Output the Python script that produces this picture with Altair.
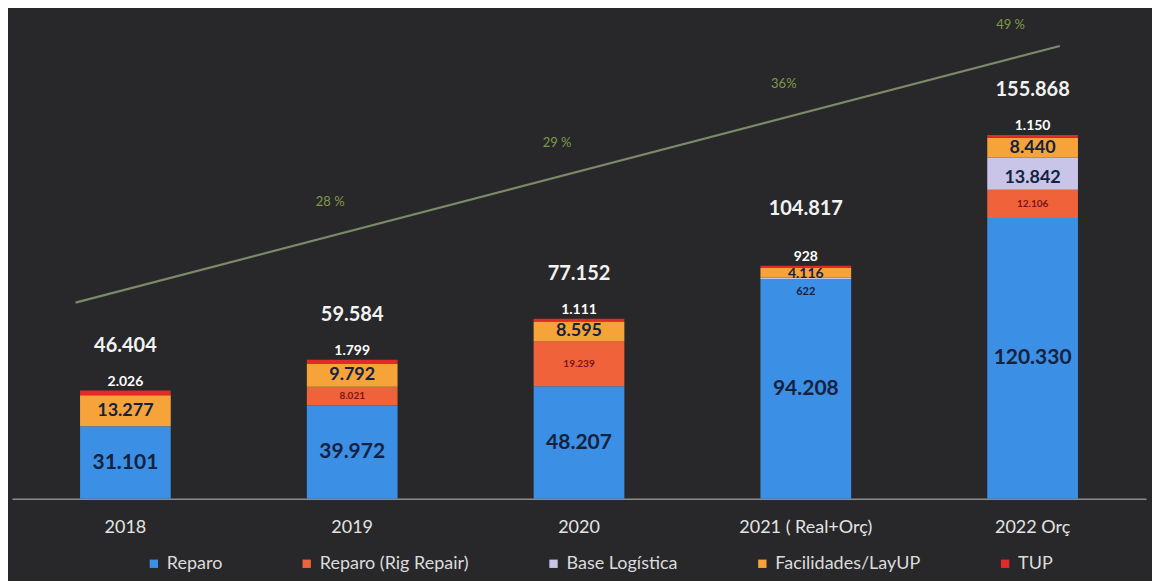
import altair as alt
import pandas as pd
import numpy as np

# ---------------- data ----------------
years = ["2018", "2019", "2020", "2021 ( Real+Orç)", "2022 Orç"]
series = ["Reparo", "Reparo (Rig Repair)", "Base Logística", "Facilidades/LayUP", "TUP"]
colors = ["#3b8fe4", "#f0623a", "#c9c5e8", "#f6a43a", "#e22a2a"]

reparo = [31101, 39972, 48207, 94208, 120330]
rig_repair = [0, 8021, 19239, 0, 12106]
base_logistica = [0, 0, 0, 622, 13842]
facilidades = [13277, 9792, 8595, 4116, 8440]
tup = [2026, 1799, 1111, 928, 1150]
totals = [46404, 59584, 77152, 104817, 155868]

pct_idx = [1, 2, 3, 4]
pct_values = [28, 29, 36, 49]
pct_labels = ["28 %", "29 %", "36%", "49 %"]

# ---------------- tables ----------------
rows = []
for i, yr in enumerate(years):
    for s_i, (s, vals) in enumerate(zip(series, [reparo, rig_repair, base_logistica, facilidades, tup])):
        rows.append(dict(year=yr, series=s, sidx=s_i, value=vals[i]))
df = pd.DataFrame(rows)

tot_df = pd.DataFrame({"year": years, "total": totals})

coef = np.polyfit(pct_idx, pct_values, 1)
pct_df = pd.DataFrame({"idx": pct_idx, "pct": pct_values, "plabel": pct_labels,
                       "fit": np.polyval(coef, pct_idx)})

FONT = "Lato"
DARK = "#15223f"

x_enc = alt.X("year:N", sort=years,
              scale=alt.Scale(paddingInner=0.6, paddingOuter=0.3),
              axis=alt.Axis(title=None, labelAngle=0, ticks=False, tickSize=0, labelPadding=20,
                            domainColor="#8c8c8c", domainWidth=1.5, labelColor="#e4e4e4",
                            labelFontSize=18, labelFont=FONT, grid=False))
y_scale = alt.Scale(domain=[0, 205100])

bars = alt.Chart(df).mark_bar().encode(
    x=x_enc,
    y=alt.Y("value:Q", stack="zero", scale=y_scale, axis=None),
    color=alt.Color("series:N", scale=alt.Scale(domain=series, range=colors),
                    legend=alt.Legend(title=None, orient="none", legendX=133, legendY=535,
                                      direction="horizontal", symbolType="square", symbolSize=70,
                                      symbolStrokeWidth=0, labelFontSize=18, labelFont=FONT,
                                      labelColor="#dcdcdc", columnPadding=75, padding=0,
                                      labelLimit=300)),
    order=alt.Order("sidx:Q", sort="ascending"),
)

stacked = alt.Chart(df).transform_stack(
    stack="value", groupby=["year"], as_=["y0", "y1"],
    sort=[alt.SortField("sidx", order="ascending")]
).transform_calculate(
    mid="(datum.y0 + datum.y1) / 2",
    label="replace(format(datum.value, ','), ',', '.')"
)

def seg_text(name, cond, **kw):
    return stacked.transform_filter(
        (alt.datum.series == name) & cond
    ).mark_text(font=FONT, **kw)

X = alt.X("year:N", sort=years)

reparo_lbl = seg_text("Reparo", alt.datum.value > 0, fontSize=21, fontWeight="bold", color=DARK).encode(
    x=X, y=alt.Y("mid:Q", scale=y_scale), text="label:N")
rig_lbl = seg_text("Reparo (Rig Repair)", alt.datum.value > 0, fontSize=10, fontWeight="bold",
                   color="#7a1414").encode(
    x=X, y=alt.Y("mid:Q", scale=y_scale), text="label:N")
base_big = seg_text("Base Logística", alt.datum.value > 5000, fontSize=18, fontWeight="bold",
                    color=DARK, dy=4).encode(
    x=X, y=alt.Y("mid:Q", scale=y_scale), text="label:N")
base_small = seg_text("Base Logística", (alt.datum.value > 0) & (alt.datum.value <= 5000), fontSize=11,
                      fontWeight="bold", color=DARK, baseline="top", dy=7).encode(
    x=X, y=alt.Y("y0:Q", scale=y_scale), text="label:N")
fac_big = seg_text("Facilidades/LayUP", alt.datum.value > 5000, fontSize=18, fontWeight="bold",
                   color=DARK).encode(
    x=X, y=alt.Y("mid:Q", scale=y_scale), text="label:N")
fac_small = seg_text("Facilidades/LayUP", (alt.datum.value > 0) & (alt.datum.value <= 5000), fontSize=14,
                     fontWeight="bold", color=DARK, dy=1).encode(
    x=X, y=alt.Y("mid:Q", scale=y_scale), text="label:N")
tup_lbl = seg_text("TUP", alt.datum.value > 0, fontSize=14, fontWeight="bold", color="#ffffff",
                   baseline="bottom", dy=-2).encode(
    x=X, y=alt.Y("y1:Q", scale=y_scale), text="label:N")

tot_lbl = alt.Chart(tot_df).transform_calculate(
    label="replace(format(datum.total, ','), ',', '.')"
).mark_text(font=FONT, fontSize=20, fontWeight="bold", color="#f2f2f2", dy=-45).encode(
    x=X, y=alt.Y("total:Q", scale=y_scale), text="label:N")

bar_layer = alt.layer(bars, reparo_lbl, rig_lbl, base_big, base_small, fac_big, fac_small,
                      tup_lbl, tot_lbl)

pct_x = alt.Scale(domain=[-0.5, 4.5])
pct_y = alt.Scale(domain=[-6.77, 49.89])
trend = alt.Chart(pct_df).transform_regression(
    "idx", "pct", extent=[-0.22, 4.12]
).mark_line(color="#7b8a68", strokeWidth=2.2).encode(
    x=alt.X("idx:Q", scale=pct_x, axis=None),
    y=alt.Y("pct:Q", scale=pct_y, axis=None))
pct_lbl = alt.Chart(pct_df).mark_text(font=FONT, fontSize=13, color="#7f9a48", dx=-22, dy=-28).encode(
    x=alt.X("idx:Q", scale=pct_x, axis=None),
    y=alt.Y("fit:Q", scale=pct_y, axis=None),
    text="plabel:N")
trend_layer = alt.layer(trend, pct_lbl)

chart = alt.layer(bar_layer, trend_layer).resolve_scale(
    x="independent", y="independent"
).properties(
    width=1135, height=479,
    padding={"left": 4, "top": 10, "right": 6, "bottom": 8},
    background="#28282a",
).configure_view(stroke=None)

chart.save("out.html", embed_options={"renderer": "svg", "actions": False})
